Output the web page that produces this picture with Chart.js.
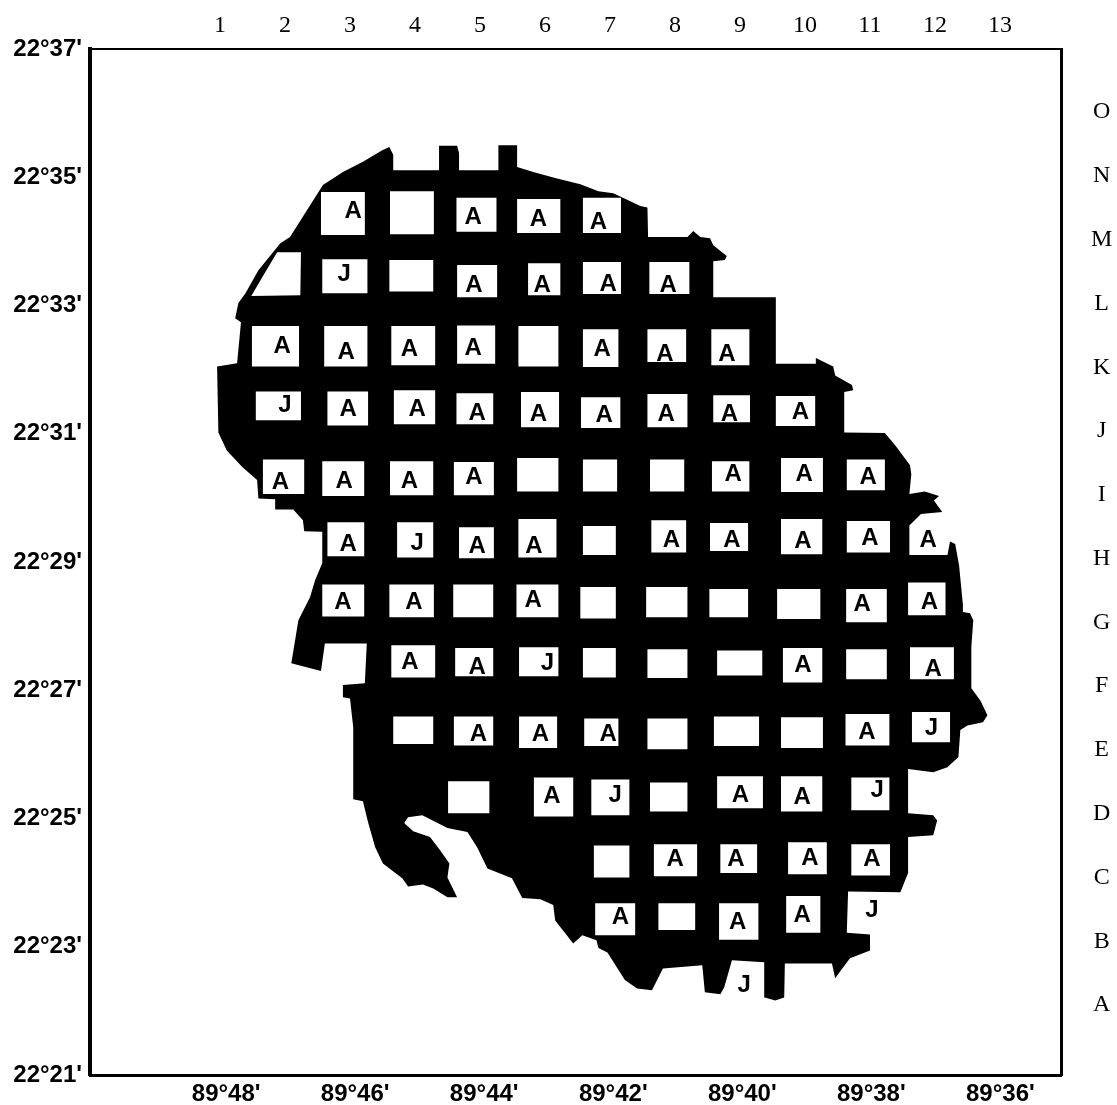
<!DOCTYPE html>
<html>
<head>
<meta charset="utf-8">
<title>Grid map</title>
<style>
  html, body { margin: 0; padding: 0; background: #fff; }
  #chartBox { position: relative; width: 1117px; height: 1105px; }
</style>
<script src="https://cdn.jsdelivr.net/npm/chart.js@4"></script>
</head>
<body>
<div id="chartBox"><canvas id="myChart"></canvas></div>
<script>
// axis labels (minutes past 89 deg E and past 22 deg N)
const lonTicks = [48, 46, 44, 42, 40, 38, 36];
const latTicks = [37, 35, 33, 31, 29, 27, 25, 23, 21];
const columnLabels = ['1', '2', '3', '4', '5', '6', '7', '8', '9', '10', '11', '12', '13'];
const rowLabels = ['A', 'B', 'C', 'D', 'E', 'F', 'G', 'H', 'I', 'J', 'K', 'L', 'M', 'N', 'O'];

// outline of the black area, clockwise from the northern tip
const outlineLon = [
  45.47, 45.41, 45.41, 44.70, 44.70, 44.42, 44.39, 44.39, 43.78, 43.78, 43.49, 43.49, 43.24, 42.90, 42.51, 42.23,
  42.00, 41.85, 41.58, 41.47, 41.46, 40.85, 40.76, 40.65, 40.50, 40.45, 40.24, 40.27, 40.45, 40.45, 39.48, 39.48,
  38.86, 38.86, 38.59, 38.56, 38.30, 38.28, 38.42, 38.42, 37.79, 37.63, 37.40, 37.38, 37.41, 37.17, 36.95, 37.03,
  36.90, 37.23, 37.41, 37.41, 36.82, 36.78, 36.70, 36.64, 36.58, 36.58, 36.47, 36.42, 36.45, 36.45, 36.31, 36.20,
  36.27, 36.51, 36.62, 36.65, 36.82, 37.04, 37.43, 37.43, 37.04, 36.98, 37.04, 37.43, 37.43, 37.55, 38.36, 38.38,
  38.02, 38.02, 38.33, 38.45, 38.56, 38.61, 39.34, 39.35, 39.49, 39.65, 39.66, 40.16, 40.28, 40.34, 40.58, 40.62,
  41.23, 41.40, 41.63, 41.82, 42.09, 42.23, 42.26, 42.48, 42.62, 42.90, 42.93, 43.13, 43.41, 43.57, 43.95, 44.11,
  44.26, 44.57, 44.96, 45.18, 45.24, 45.10, 44.84, 44.68, 44.54, 44.57, 44.42, 44.57, 44.79, 44.95, 45.18, 45.27,
  45.57, 45.69, 45.80, 45.88, 46.03, 46.03, 46.08, 46.19, 46.19, 45.85, 45.82, 46.47, 46.53, 46.99, 46.88, 46.70,
  46.62, 46.51, 46.51, 46.79, 46.81, 46.96, 47.24, 47.24, 47.50, 47.52, 47.75, 47.99, 48.12, 48.14, 47.83, 47.77,
  47.86, 47.81, 47.70, 47.50, 47.16, 47.01, 46.62, 46.50, 46.19, 45.88, 45.58
];
const outlineLat = [
  35.47, 35.35, 35.11, 35.11, 35.49, 35.49, 35.38, 35.11, 35.11, 35.50, 35.50, 35.16, 35.08, 34.99, 34.89, 34.78,
  34.75, 34.68, 34.55, 34.53, 34.07, 34.07, 34.16, 34.07, 34.05, 33.94, 33.77, 33.71, 33.69, 33.13, 33.13, 32.09,
  32.09, 32.18, 32.05, 31.91, 31.76, 31.68, 31.65, 31.02, 31.01, 30.82, 30.51, 30.37, 30.06, 30.10, 30.03, 29.96,
  29.78, 29.75, 29.57, 29.11, 29.11, 29.32, 29.28, 28.95, 28.33, 28.22, 28.20, 28.09, 27.67, 27.03, 26.84, 26.61,
  26.50, 26.45, 26.38, 25.96, 25.80, 25.72, 25.77, 25.08, 25.05, 24.97, 24.74, 24.71, 24.15, 23.85, 23.86, 23.22,
  23.19, 22.94, 22.82, 22.66, 22.51, 22.74, 22.74, 22.21, 22.16, 22.21, 22.76, 22.79, 22.37, 22.26, 22.29, 22.71,
  22.66, 22.32, 22.35, 22.48, 22.91, 22.98, 23.10, 23.18, 23.05, 23.41, 23.65, 23.74, 23.76, 24.07, 24.22, 24.55,
  24.79, 24.85, 25.05, 25.02, 24.93, 24.80, 24.71, 24.50, 24.30, 24.08, 23.77, 23.77, 23.91, 23.97, 23.94, 24.07,
  24.30, 24.55, 24.94, 25.27, 25.30, 26.42, 26.87, 26.89, 27.08, 27.11, 27.73, 27.73, 27.30, 27.42, 28.09, 28.45,
  28.72, 28.98, 29.47, 29.48, 29.65, 29.82, 29.82, 29.98, 29.99, 30.28, 30.48, 30.74, 31.02, 32.05, 32.10, 32.74,
  32.80, 33.04, 33.19, 33.55, 33.97, 34.07, 34.69, 34.88, 35.08, 35.24, 35.42
];

// the cut off plot in the north west corner
const patchLon = [47.61, 47.44, 47.21, 46.84, 46.85];
const patchLat = [33.15, 33.44, 33.83, 33.83, 33.16];

// white plots, row by row from the north
const plotWest = [
  46.53, 45.46, 44.43, 43.49, 42.47,
  46.51, 45.47, 44.42, 43.32, 42.47, 41.44,
  47.60, 46.48, 45.44, 44.42, 43.47, 42.47, 41.47, 40.48,
  47.54, 46.43, 45.40, 44.43, 43.43, 42.50, 41.47, 40.45, 39.48,
  47.43, 46.51, 45.46, 44.47, 43.49, 42.47, 41.43, 40.47, 39.40, 38.38,
  46.43, 45.35, 44.39, 43.47, 42.47, 41.41, 40.50, 39.40, 38.38,
  46.51, 45.47, 44.48, 43.50, 42.51, 41.49, 40.51, 39.46, 38.39, 37.43,
  45.44, 44.45, 43.46, 42.47, 41.47, 40.39, 39.37, 38.39, 37.40,
  45.41, 44.47, 43.46, 42.45, 41.47, 40.44, 39.40, 38.40, 37.37,
  44.56, 43.23, 42.34, 41.43, 40.39, 39.40, 38.31,
  42.30, 41.37, 40.34, 39.29, 38.31,
  42.28, 41.30, 40.36, 39.32
];
const plotEast = [
  45.85, 44.78, 43.81, 42.82, 41.88,
  45.81, 44.79, 43.80, 42.82, 41.88, 40.82,
  46.87, 45.81, 44.76, 43.83, 42.85, 41.92, 40.87, 39.89,
  46.84, 45.80, 44.76, 43.86, 42.84, 41.89, 40.85, 39.88, 38.87,
  46.79, 45.86, 44.79, 43.85, 42.85, 41.94, 40.90, 39.89, 38.75, 37.79,
  45.86, 44.79, 43.85, 42.88, 41.96, 40.87, 39.91, 38.76, 37.71,
  45.86, 44.78, 43.86, 42.85, 41.96, 40.85, 39.91, 38.79, 37.76, 36.85,
  44.76, 43.86, 42.85, 41.96, 40.85, 39.69, 38.76, 37.76, 36.72,
  44.79, 43.86, 42.87, 41.92, 40.85, 39.74, 38.75, 37.72, 36.78,
  43.92, 42.62, 41.75, 40.85, 39.68, 38.76, 37.72,
  41.75, 40.70, 39.77, 38.69, 37.71,
  41.66, 40.73, 39.75, 38.79
];
const plotNorth = [
  34.77, 34.78, 34.68, 34.66, 34.68,
  33.72, 33.71, 33.63, 33.66, 33.68, 33.68,
  32.68, 32.68, 32.68, 32.69, 32.68, 32.63, 32.63, 32.63,
  31.66, 31.66, 31.68, 31.63, 31.65, 31.57, 31.62, 31.60, 31.59,
  30.60, 30.57, 30.57, 30.56, 30.62, 30.60, 30.60, 30.57, 30.62, 30.60,
  29.62, 29.62, 29.54, 29.67, 29.56, 29.65, 29.61, 29.67, 29.64,
  28.65, 28.65, 28.65, 28.65, 28.61, 28.61, 28.58, 28.58, 28.58, 28.68,
  27.70, 27.66, 27.67, 27.66, 27.64, 27.62, 27.66, 27.64, 27.67,
  26.59, 26.59, 26.59, 26.56, 26.56, 26.59, 26.58, 26.63, 26.66,
  25.58, 25.64, 25.61, 25.56, 25.66, 25.66, 25.64,
  24.58, 24.60, 24.60, 24.63, 24.60,
  23.68, 23.68, 23.68, 23.79
];
const plotSouth = [
  34.10, 34.11, 34.15, 34.13, 34.13,
  33.19, 33.22, 33.13, 33.16, 33.18, 33.18,
  32.05, 32.05, 32.07, 32.09, 32.05, 32.04, 32.12, 32.07,
  31.21, 31.13, 31.15, 31.15, 31.10, 31.09, 31.10, 31.18, 31.12,
  30.06, 30.03, 30.04, 30.04, 30.10, 30.10, 30.10, 30.10, 30.09, 30.12,
  29.09, 29.07, 29.06, 29.07, 29.11, 29.15, 29.17, 29.12, 29.15,
  28.15, 28.14, 28.14, 28.14, 28.12, 28.14, 28.14, 28.11, 28.06, 28.17,
  27.20, 27.22, 27.22, 27.20, 27.19, 27.23, 27.12, 27.17, 27.17,
  26.16, 26.14, 26.10, 26.13, 26.08, 26.13, 26.10, 26.14, 26.19,
  25.08, 25.03, 25.05, 25.11, 25.16, 25.11, 25.13,
  24.08, 24.10, 24.15, 24.13, 24.11,
  23.18, 23.26, 23.11, 23.22
];

// letters written on the plots
const markText = [
  'A', 'A', 'A', 'A',
  'J', 'A', 'A', 'A', 'A',
  'A', 'A', 'A', 'A', 'A', 'A', 'A',
  'J', 'A', 'A', 'A', 'A', 'A', 'A', 'A', 'A',
  'A', 'A', 'A', 'A', 'A', 'A', 'A',
  'A', 'J', 'A', 'A', 'A', 'A', 'A', 'A', 'A',
  'A', 'A', 'A', 'A', 'A',
  'A', 'A', 'J', 'A', 'A',
  'A', 'A', 'A', 'A', 'J',
  'A', 'J', 'A', 'A', 'J',
  'A', 'A', 'A', 'A',
  'A', 'A', 'A', 'J',
  'J'
];
const markLon = [
  46.03, 44.17, 43.16, 42.23,
  46.17, 44.16, 43.10, 42.08, 41.15,
  47.13, 46.14, 45.16, 44.17, 42.17, 41.20, 40.24,
  47.09, 46.11, 45.04, 44.11, 43.16, 42.14, 41.18, 40.20, 39.10,
  47.16, 46.17, 45.16, 44.16, 40.14, 39.04, 38.05,
  46.11, 45.04, 44.11, 43.23, 41.10, 40.16, 39.06, 38.02, 37.12,
  46.19, 45.09, 43.24, 38.14, 37.10,
  45.15, 44.11, 43.02, 39.06, 37.04,
  44.09, 43.13, 42.08, 38.07, 37.07,
  42.95, 41.97, 40.03, 39.07, 37.91,
  41.04, 40.10, 38.95, 37.99,
  41.89, 40.07, 39.07, 37.99,
  39.97
];
const markLat = [
  34.50, 34.41, 34.38, 34.33,
  33.52, 33.35, 33.35, 33.36, 33.35,
  32.40, 32.30, 32.35, 32.37, 32.35, 32.27, 32.27,
  31.48, 31.41, 31.41, 31.35, 31.34, 31.32, 31.34, 31.34, 31.37,
  30.28, 30.29, 30.29, 30.35, 30.39, 30.39, 30.35,
  29.31, 29.32, 29.28, 29.28, 29.37, 29.37, 29.36, 29.40, 29.37,
  28.40, 28.40, 28.44, 28.37, 28.40,
  27.47, 27.39, 27.45, 27.42, 27.36,
  26.35, 26.35, 26.35, 26.38, 26.44,
  25.38, 25.39, 25.39, 25.36, 25.47,
  24.39, 24.39, 24.41, 24.39,
  23.49, 23.41, 23.52, 23.60,
  22.43
];

const boldFont = { family: '"Liberation Sans", Arial, sans-serif', size: 24, weight: 'bold' };
const serifFont = { family: '"Liberation Serif", "Times New Roman", serif', size: 24 };

// closed shape through the given corners
function shapeDataset(lons, lats, color, order) {
  return {
    data: lons.map((lon, i) => ({ x: lon, y: lats[i] })),
    backgroundColor: color,
    borderColor: color,
    borderWidth: 0,
    pointRadius: 0,
    tension: 0,
    fill: 'shape',
    order: order
  };
}

const datasets = [shapeDataset(outlineLon, outlineLat, '#000', 3), shapeDataset(patchLon, patchLat, '#fff', 2)];
plotWest.forEach((west, i) => {
  const east = plotEast[i];
  const north = plotNorth[i];
  const south = plotSouth[i];
  datasets.push(shapeDataset([west, east, east, west], [north, north, south, south], '#fff', 1));
});

// Chart.js has no text marks, so the letters go on top through the scales
const plotLetters = {
  id: 'plotLetters',
  afterDatasetsDraw(chart) {
    const ctx = chart.ctx;
    ctx.save();
    ctx.fillStyle = '#000';
    ctx.font = 'bold 24px "Liberation Sans", Arial, sans-serif';
    ctx.textAlign = 'center';
    ctx.textBaseline = 'middle';
    markText.forEach((letter, i) => {
      // +2: caps sit a little high on the middle baseline
      ctx.fillText(letter, chart.scales.x.getPixelForValue(markLon[i]), chart.scales.y.getPixelForValue(markLat[i]) + 2);
    });
    ctx.restore();
  }
};

function fixedTicks(values) {
  return scale => { scale.ticks = values.map(v => ({ value: v })); };
}

// keep the frame where it is, whatever the labels measure
function fixedSize(side, size) {
  return scale => {
    scale[side] = size;
    scale.paddingTop = 0;
    scale.paddingBottom = 0;
    scale.paddingLeft = 0;
    scale.paddingRight = 0;
  };
}

new Chart(document.getElementById('myChart').getContext('2d'), {
  type: 'line',
  data: { datasets: datasets },
  plugins: [plotLetters],
  options: {
    responsive: true,
    maintainAspectRatio: false,
    animation: false,
    events: [],
    layout: { padding: 0 },
    plugins: { legend: { display: false }, tooltip: { enabled: false }, title: { display: false } },
    scales: {
      x: {
        type: 'linear',
        position: 'bottom',
        reverse: true,
        min: 35.06,
        max: 50.11,
        grid: { display: false, drawTicks: false },
        border: { color: '#000', width: 3 },
        afterBuildTicks: fixedTicks(lonTicks),
        afterFit: fixedSize('height', 30),
        ticks: {
          autoSkip: false,
          maxRotation: 0,
          padding: 5,
          color: '#000',
          font: boldFont,
          callback: v => '89°' + v + "'"
        }
      },
      y: {
        type: 'linear',
        position: 'left',
        min: 21,
        max: 37,
        grid: { display: false, drawTicks: false },
        border: { color: '#000', width: 4 },
        afterBuildTicks: fixedTicks(latTicks),
        afterFit: fixedSize('width', 90),
        ticks: {
          autoSkip: false,
          padding: 8,
          color: '#000',
          font: boldFont,
          callback: v => '22°' + v + "'"
        }
      },
      x2: {
        type: 'linear',
        position: 'top',
        min: -1,
        max: 13.94,
        grid: { display: false, drawTicks: false },
        border: { color: '#000', width: 2 },
        afterBuildTicks: fixedTicks(columnLabels.map(Number)),
        afterFit: fixedSize('height', 49),
        ticks: {
          autoSkip: false,
          maxRotation: 0,
          padding: 9,
          color: '#000',
          font: serifFont,
          callback: v => columnLabels[v - 1]
        }
      },
      y2: {
        type: 'linear',
        position: 'right',
        min: -1.097,
        max: 14.99,
        grid: { display: false, drawTicks: false },
        border: { color: '#000', width: 3 },
        afterBuildTicks: fixedTicks(rowLabels.map((label, i) => i)),
        afterFit: fixedSize('width', 56),
        ticks: {
          autoSkip: false,
          padding: 30,
          crossAlign: 'center',
          color: '#000',
          font: serifFont,
          callback: v => rowLabels[v]
        }
      }
    }
  }
});
</script>
</body>
</html>
